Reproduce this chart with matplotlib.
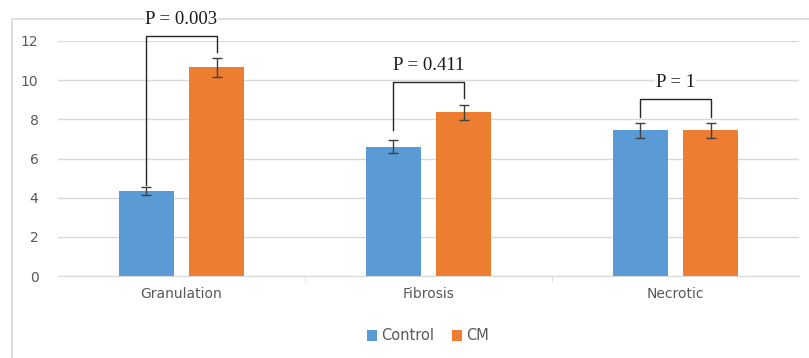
import numpy as np
import matplotlib.pyplot as plt
from matplotlib.patches import Rectangle

categories = ['Granulation', 'Fibrosis', 'Necrotic']
control = [4.35, 6.6, 7.45]
control_err = [0.22, 0.32, 0.38]
cm = [10.65, 8.35, 7.45]
cm_err = [0.5, 0.4, 0.38]
p_labels = ['P = 0.003', 'P = 0.411', 'P = 1']
# bracket: top, left leg bottom, right leg bottom
bracket_top = [12.25, 9.9, 9.05]
bracket_left = [4.65, 7.45, 8.1]
bracket_right = [11.45, 9.1, 8.1]

fig = plt.figure(figsize=(8.09, 3.58), dpi=100)
# chart frame, runs off the right and bottom of the picture
fig.patches.append(Rectangle((12/809, -0.1), 1.0, 1.1 - 19/358, transform=fig.transFigure,
                             fill=False, edgecolor='#d9d9d9', lw=1.2, zorder=-1))
ax = fig.add_axes([58/809, 1-276/358, 741/809, 235/358])
ax.patch.set_alpha(0)

x = np.arange(len(categories))
w = 0.223
off = 0.142
ax.bar(x - off, control, w, color='#5b9bd5', label='Control', zorder=2)
ax.bar(x + off, cm, w, color='#ed7d31', label='CM', zorder=2)
ax.errorbar(x - off, control, yerr=control_err, fmt='none', ecolor='#404040',
            capsize=3.5, lw=1, capthick=1, zorder=3)
ax.errorbar(x + off, cm, yerr=cm_err, fmt='none', ecolor='#404040',
            capsize=3.5, lw=1, capthick=1, zorder=3)

for i in range(len(categories)):
    xl, xr = x[i] - off, x[i] + off
    ax.plot([xl, xl, xr, xr], [bracket_left[i], bracket_top[i], bracket_top[i], bracket_right[i]],
            color='#262626', lw=1, clip_on=False, zorder=4)
    ax.text(x[i], bracket_top[i] + 0.42, p_labels[i], ha='center', va='bottom',
            family='Liberation Serif', fontsize=13.5, color='#1a1a1a', clip_on=False,
            bbox=dict(facecolor='white', edgecolor='none', pad=0.5), zorder=5)

ax.set_xlim(-0.5, 2.5)
ax.set_ylim(0, 12)
ax.set_yticks(range(0, 13, 2))
ax.yaxis.grid(True, color='#d9d9d9', lw=1, zorder=0)
ax.set_axisbelow(True)
for s in ['top', 'right', 'left']:
    ax.spines[s].set_visible(False)
ax.spines['bottom'].set_color('#d9d9d9')
ax.tick_params(axis='y', length=0, labelsize=10, labelcolor='#595959', pad=14)
ax.set_xticks(x)
ax.set_xticklabels(categories)
ax.tick_params(axis='x', length=0, labelsize=10, labelcolor='#595959', pad=8)
ax.set_xticks([0.5, 1.5], minor=True)
ax.tick_params(axis='x', which='minor', length=4, color='#d9d9d9')

fig.legend(loc='center', bbox_to_anchor=(428/809, 1-336/358), ncol=2, frameon=False,
           fontsize=10.5, handlelength=0.7, handleheight=0.7, handletextpad=0.3,
           columnspacing=1.2, labelcolor='#595959')

fig.savefig('out.png', dpi=100)
